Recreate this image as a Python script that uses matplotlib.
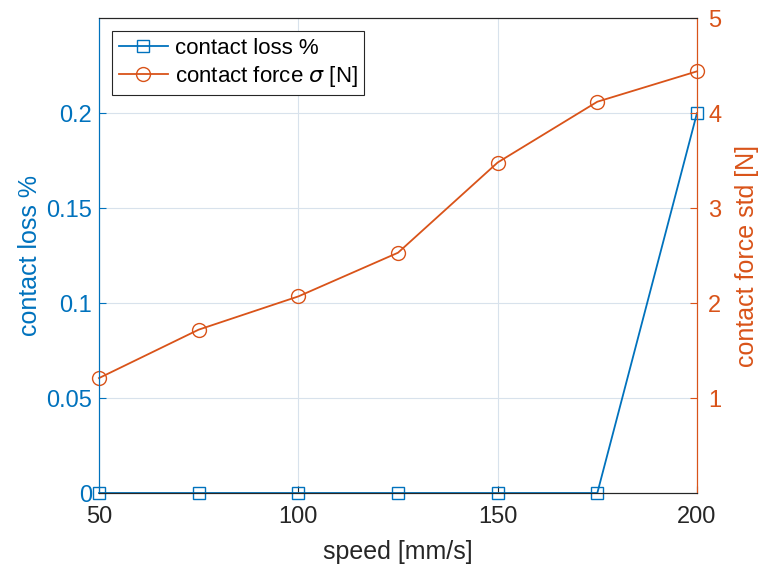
import matplotlib
matplotlib.use("Agg")
import matplotlib.pyplot as plt

plt.rcParams["font.family"] = ["Liberation Sans", "DejaVu Sans"]
plt.rcParams["mathtext.fontset"] = "dejavusans"

speed = [50, 75, 100, 125, 150, 175, 200]
contact_loss = [0, 0, 0, 0, 0, 0, 0.2]
force_std = [1.21, 1.72, 2.07, 2.53, 3.48, 4.12, 4.44]

blue = "#0072BD"
orange = "#D95319"

fig = plt.figure(figsize=(7.58, 5.67), dpi=100)
ax = fig.add_axes([0.1306, 0.1305, 0.7889, 0.8375])
ax2 = ax.twinx()

l1, = ax.plot(speed, contact_loss, color=blue, marker="s", markersize=8,
              markerfacecolor="none", linewidth=1.3, label="contact loss %",
              clip_on=False)
l2, = ax2.plot(speed, force_std, color=orange, marker="o", markersize=10,
               markerfacecolor="none", linewidth=1.3, label=r"contact force $\sigma$ [N]",
               clip_on=False)

ax.set_xlim(50, 200)
ax.set_ylim(0, 0.25)
ax2.set_ylim(0, 5)
ax.set_xticks([50, 100, 150, 200])
ax.set_yticks([0, 0.05, 0.1, 0.15, 0.2])
ax.set_yticklabels(["0", "0.05", "0.1", "0.15", "0.2"])
ax2.set_yticks([1, 2, 3, 4, 5])

ax.grid(True, color="#d8e2ec", linewidth=0.8)
ax.set_axisbelow(True)

ax.tick_params(axis="x", colors="#262626", labelsize=17, direction="in", length=5, pad=9)
ax.tick_params(axis="y", colors=blue, labelsize=17, direction="in", length=5, pad=5)
ax2.tick_params(axis="y", colors=orange, labelsize=17, direction="in", length=5, pad=8)

ax.set_xlabel("speed [mm/s]", fontsize=18, color="#262626", labelpad=9)
ax.set_ylabel("contact loss %", fontsize=18, color=blue, labelpad=3)
ax2.set_ylabel("contact force std [N]", fontsize=18, color=orange, labelpad=10)

for a in (ax, ax2):
    a.spines["top"].set_color("#262626")
    a.spines["bottom"].set_color("#262626")
    a.spines["left"].set_color(blue)
    a.spines["right"].set_color(orange)

leg = ax.legend(handles=[l1, l2], loc="upper left", fontsize=16, frameon=True,
                fancybox=False, edgecolor="#262626", borderaxespad=0.6,
                handlelength=2.2, handletextpad=0.3, borderpad=0.3,
                labelspacing=0.2, framealpha=1)
leg.get_frame().set_linewidth(0.8)

fig.savefig("out.png", dpi=100)
